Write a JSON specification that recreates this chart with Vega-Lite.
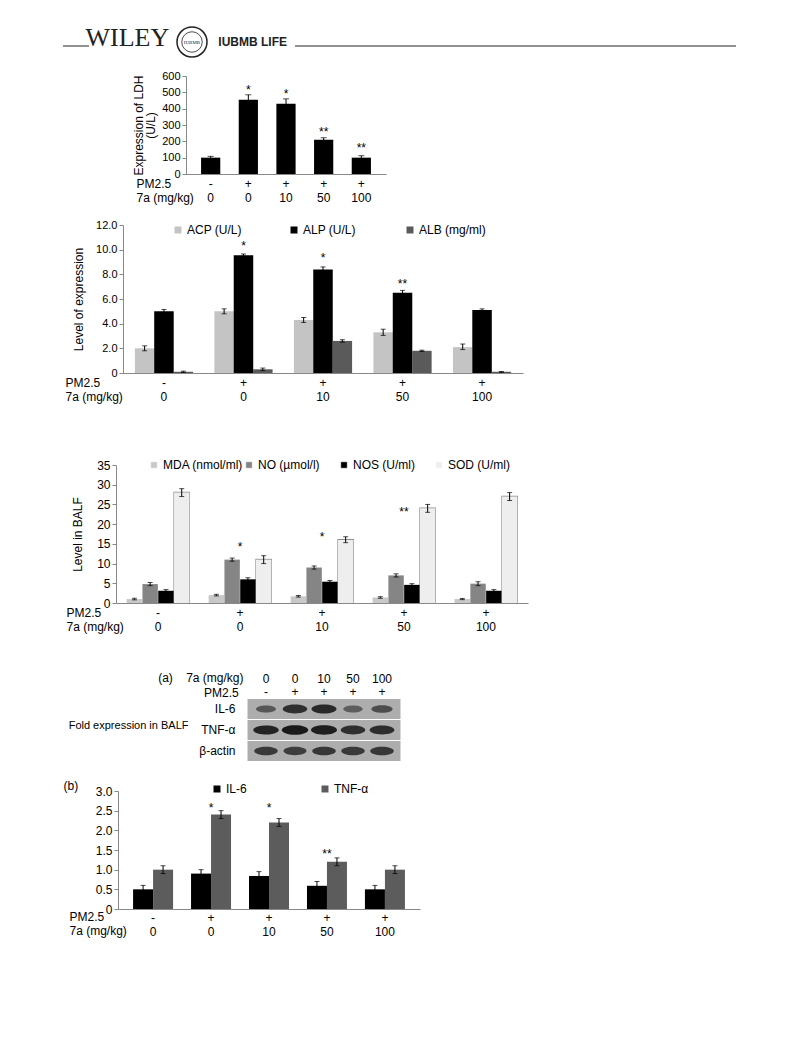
{
  "$schema": "https://vega.github.io/schema/vega-lite/v6.json",
  "autosize": {"type": "pad"},
  "padding": {"left": 62, "top": 24, "right": 10, "bottom": 10},
  "background": "white",
  "config": {
    "font": "Liberation Sans",
    "view": {"stroke": null},
    "axis": {"labelColor": "#000", "titleColor": "#000", "domainColor": "#888", "tickColor": "#888", "grid": false, "labelFont": "Liberation Sans", "titleFont": "Liberation Sans", "titleFontWeight": "normal", "labelFontSize": 12, "titleFontSize": 12, "labelOverlap": false},
    "legend": {"labelFont": "Liberation Sans", "labelColor": "#000", "labelFontSize": 12},
    "text": {"font": "Liberation Sans"},
    "concat": {"spacing": 0}
  },
  "resolve": {"scale": {"color": "independent", "stroke": "independent", "size": "independent", "opacity": "independent", "x": "independent", "y": "independent", "xOffset": "independent"}, "legend": {"color": "independent"}},
  "datasets": {
    "hdr": [{"part": "WILEY"}, {"part": "logo"}, {"part": "IUBMB LIFE"}],
    "ldh": [
      {"g": "-|0", "v": 100, "lo": 92, "hi": 108},
      {"g": "+|0", "v": 455, "lo": 425, "hi": 485},
      {"g": "+|10", "v": 430, "lo": 400, "hi": 460},
      {"g": "+|50", "v": 210, "lo": 200, "hi": 222},
      {"g": "+|100", "v": 100, "lo": 92, "hi": 112}
    ],
    "ldhStar": [
      {"g": "+|0", "sy": 514, "star": "*"},
      {"g": "+|10", "sy": 490, "star": "*"},
      {"g": "+|50", "sy": 257, "star": "**"},
      {"g": "+|100", "sy": 159, "star": "**"}
    ],
    "enz": [
      {"g": "-|0", "s": "ACP (U/L)", "v": 2.0, "lo": 1.8, "hi": 2.2},
      {"g": "+|0", "s": "ACP (U/L)", "v": 5.0, "lo": 4.8, "hi": 5.2},
      {"g": "+|10", "s": "ACP (U/L)", "v": 4.3, "lo": 4.1, "hi": 4.5},
      {"g": "+|50", "s": "ACP (U/L)", "v": 3.3, "lo": 3.05, "hi": 3.55},
      {"g": "+|100", "s": "ACP (U/L)", "v": 2.1, "lo": 1.9, "hi": 2.35},
      {"g": "-|0", "s": "ALP (U/L)", "v": 5.0, "lo": 4.85, "hi": 5.15},
      {"g": "+|0", "s": "ALP (U/L)", "v": 9.55, "lo": 9.45, "hi": 9.65},
      {"g": "+|10", "s": "ALP (U/L)", "v": 8.4, "lo": 8.25, "hi": 8.6},
      {"g": "+|50", "s": "ALP (U/L)", "v": 6.5, "lo": 6.35, "hi": 6.7},
      {"g": "+|100", "s": "ALP (U/L)", "v": 5.1, "lo": 5.0, "hi": 5.2},
      {"g": "-|0", "s": "ALB (mg/ml)", "v": 0.1, "lo": 0.05, "hi": 0.15},
      {"g": "+|0", "s": "ALB (mg/ml)", "v": 0.3, "lo": 0.2, "hi": 0.4},
      {"g": "+|10", "s": "ALB (mg/ml)", "v": 2.6, "lo": 2.5, "hi": 2.7},
      {"g": "+|50", "s": "ALB (mg/ml)", "v": 1.8, "lo": 1.75, "hi": 1.85},
      {"g": "+|100", "s": "ALB (mg/ml)", "v": 0.1, "lo": 0.05, "hi": 0.12}
    ],
    "enzStar": [
      {"g": "+|0", "sy": 10.3, "star": "*"},
      {"g": "+|10", "sy": 9.3, "star": "*"},
      {"g": "+|50", "sy": 7.2, "star": "**"}
    ],
    "balf": [
      {"g": "-|0", "s": "MDA (nmol/ml)", "v": 1.0, "lo": 0.8, "hi": 1.2},
      {"g": "+|0", "s": "MDA (nmol/ml)", "v": 2.0, "lo": 1.8, "hi": 2.2},
      {"g": "+|10", "s": "MDA (nmol/ml)", "v": 1.7, "lo": 1.5, "hi": 1.9},
      {"g": "+|50", "s": "MDA (nmol/ml)", "v": 1.4, "lo": 1.2, "hi": 1.6},
      {"g": "+|100", "s": "MDA (nmol/ml)", "v": 1.0, "lo": 0.85, "hi": 1.15},
      {"g": "-|0", "s": "NO (µmol/l)", "v": 4.8, "lo": 4.4, "hi": 5.2},
      {"g": "+|0", "s": "NO (µmol/l)", "v": 11.0, "lo": 10.6, "hi": 11.4},
      {"g": "+|10", "s": "NO (µmol/l)", "v": 9.0, "lo": 8.6, "hi": 9.4},
      {"g": "+|50", "s": "NO (µmol/l)", "v": 7.0, "lo": 6.6, "hi": 7.4},
      {"g": "+|100", "s": "NO (µmol/l)", "v": 4.9, "lo": 4.4, "hi": 5.4},
      {"g": "-|0", "s": "NOS (U/ml)", "v": 3.1, "lo": 2.8, "hi": 3.4},
      {"g": "+|0", "s": "NOS (U/ml)", "v": 6.0, "lo": 5.6, "hi": 6.4},
      {"g": "+|10", "s": "NOS (U/ml)", "v": 5.4, "lo": 5.1, "hi": 5.7},
      {"g": "+|50", "s": "NOS (U/ml)", "v": 4.6, "lo": 4.3, "hi": 4.9},
      {"g": "+|100", "s": "NOS (U/ml)", "v": 3.1, "lo": 2.8, "hi": 3.4},
      {"g": "-|0", "s": "SOD (U/ml)", "v": 28, "lo": 27, "hi": 29},
      {"g": "+|0", "s": "SOD (U/ml)", "v": 11, "lo": 10, "hi": 12},
      {"g": "+|10", "s": "SOD (U/ml)", "v": 16, "lo": 15.3, "hi": 16.8},
      {"g": "+|50", "s": "SOD (U/ml)", "v": 24, "lo": 23, "hi": 25},
      {"g": "+|100", "s": "SOD (U/ml)", "v": 27, "lo": 26, "hi": 28}
    ],
    "balfStar": [
      {"g": "+|0", "sy": 14.2, "star": "*"},
      {"g": "+|10", "sy": 16.7, "star": "*"},
      {"g": "+|50", "sy": 23.1, "star": "**"}
    ],
    "blot": [
      {"lane": "0|-", "row": "IL-6", "intensity": 0.4},
      {"lane": "0|+", "row": "IL-6", "intensity": 0.8},
      {"lane": "10|+", "row": "IL-6", "intensity": 0.85},
      {"lane": "50|+", "row": "IL-6", "intensity": 0.35},
      {"lane": "100|+", "row": "IL-6", "intensity": 0.5},
      {"lane": "0|-", "row": "TNF-α", "intensity": 0.9},
      {"lane": "0|+", "row": "TNF-α", "intensity": 1.0},
      {"lane": "10|+", "row": "TNF-α", "intensity": 0.95},
      {"lane": "50|+", "row": "TNF-α", "intensity": 0.8},
      {"lane": "100|+", "row": "TNF-α", "intensity": 0.82},
      {"lane": "0|-", "row": "β-actin", "intensity": 0.7},
      {"lane": "0|+", "row": "β-actin", "intensity": 0.66},
      {"lane": "10|+", "row": "β-actin", "intensity": 0.72},
      {"lane": "50|+", "row": "β-actin", "intensity": 0.7},
      {"lane": "100|+", "row": "β-actin", "intensity": 0.72}
    ],
    "cyt": [
      {"g": "-|0", "s": "IL-6", "v": 0.5, "lo": 0.4, "hi": 0.6},
      {"g": "+|0", "s": "IL-6", "v": 0.9, "lo": 0.8, "hi": 1.0},
      {"g": "+|10", "s": "IL-6", "v": 0.84, "lo": 0.74, "hi": 0.95},
      {"g": "+|50", "s": "IL-6", "v": 0.59, "lo": 0.49, "hi": 0.7},
      {"g": "+|100", "s": "IL-6", "v": 0.5, "lo": 0.4, "hi": 0.6},
      {"g": "-|0", "s": "TNF-α", "v": 1.0, "lo": 0.9, "hi": 1.1},
      {"g": "+|0", "s": "TNF-α", "v": 2.4, "lo": 2.3, "hi": 2.5},
      {"g": "+|10", "s": "TNF-α", "v": 2.2, "lo": 2.1, "hi": 2.3},
      {"g": "+|50", "s": "TNF-α", "v": 1.2, "lo": 1.1, "hi": 1.3},
      {"g": "+|100", "s": "TNF-α", "v": 1.0, "lo": 0.9, "hi": 1.1}
    ],
    "cytStar": [
      {"g": "+|0", "sy": 2.57, "star": "*"},
      {"g": "+|10", "sy": 2.57, "star": "*"},
      {"g": "+|50", "sy": 1.4, "star": "**"}
    ]
  },
  "bounds": "flush",
  "spacing": 0,
  "vconcat": [
    {
      "width": 673, "height": 40,
      "layer": [
        {"data": {"values": [{}]}, "mark": {"type": "rule", "color": "#222", "strokeWidth": 1}, "encoding": {"y": {"datum": 0, "type": "quantitative", "scale": {"domain": [-1, 1]}, "axis": null}}},
        {"data": {"name": "hdr"}, "mark": {"type": "rect", "color": "white"}, "encoding": {"x": {"field": "part", "type": "nominal", "scale": {"domain": ["WILEY", "logo", "IUBMB LIFE"], "range": [26, 232], "paddingInner": 0, "paddingOuter": 0}, "axis": null}}},
        {"data": {"values": [{"part": "WILEY"}]}, "mark": {"type": "text", "font": "Liberation Serif", "fontSize": 26, "baseline": "alphabetic", "align": "center", "color": "#222", "dx": 4}, "encoding": {"x": {"field": "part", "type": "nominal", "axis": null}, "text": {"field": "part"}}},
        {"data": {"values": [{"part": "IUBMB LIFE"}]}, "mark": {"type": "text", "font": "Liberation Sans", "fontWeight": "bold", "fontSize": 12, "baseline": "alphabetic", "align": "center", "color": "#222", "dx": -8}, "encoding": {"x": {"field": "part", "type": "nominal", "axis": null}, "text": {"field": "part"}}},
        {"data": {"values": [{"part": "logo"}]}, "mark": {"type": "point", "shape": "circle", "size": 900, "filled": true, "fill": "white", "stroke": "#222", "strokeWidth": 1.5, "opacity": 1, "yOffset": -4}, "encoding": {"x": {"field": "part", "type": "nominal", "axis": null}}},
        {"data": {"values": [{"part": "logo"}]}, "mark": {"type": "point", "shape": "circle", "size": 420, "filled": false, "stroke": "#222", "strokeWidth": 0.8, "opacity": 1, "yOffset": -4}, "encoding": {"x": {"field": "part", "type": "nominal", "axis": null}}},
        {"data": {"values": [{"part": "logo", "t": "IUBMB"}]}, "mark": {"type": "text", "font": "Liberation Serif", "fontSize": 5, "baseline": "middle", "yOffset": -4, "color": "#222"}, "encoding": {"x": {"field": "part", "type": "nominal", "axis": null}, "text": {"field": "t"}}}
      ]
    },
    {"width": 1, "height": 10, "data": {"values": []}, "mark": "rect", "encoding": {}},
    {
      "width": 323, "height": 98,
      "data": {"name": "ldh"},
      "resolve": {"axis": {"y": "independent"}},
      "encoding": {"x": {"field": "g", "type": "nominal", "sort": ["-|0", "+|0", "+|10", "+|50", "+|100"], "scale": {"range": [123, 323], "paddingInner": 0.49, "paddingOuter": 0.4}, "axis": {"title": ["PM2.5", "7a (mg/kg)"], "titleAlign": "left", "titleAnchor": "start", "titleX": 73, "titleY": 4, "titleBaseline": "top", "titleLineHeight": 14, "labelExpr": "split(datum.label, '|')", "labelAngle": 0, "labelLineHeight": 14, "labelBaseline": "top", "labelPadding": 4, "labelOverlap": false, "ticks": false}}},
      "layer": [
        {"mark": {"type": "bar", "color": "#000"}, "encoding": {"y": {"field": "v", "type": "quantitative", "scale": {"domain": [0, 600], "nice": false}, "axis": {"offset": -123, "title": ["Expression of LDH", "(U/L)"], "values": [0, 100, 200, 300, 400, 500, 600], "labelOverlap": false, "titlePadding": 4, "titleLineHeight": 12, "labelFontSize": 11, "tickSize": 4, "labelPadding": 2}}}},
        {"mark": {"type": "rule", "color": "#000", "strokeWidth": 1}, "encoding": {"y": {"field": "lo", "type": "quantitative", "scale": {"domain": [0, 600], "nice": false}, "axis": null}, "y2": {"field": "hi"}}},
        {"mark": {"type": "tick", "orient": "horizontal", "size": 6, "thickness": 1, "color": "#000"}, "encoding": {"y": {"field": "hi", "type": "quantitative", "scale": {"domain": [0, 600], "nice": false}, "axis": null}}},
        {"data": {"name": "ldhStar"}, "mark": {"type": "text", "fontSize": 12, "baseline": "middle", "color": "#000"}, "encoding": {"y": {"field": "sy", "type": "quantitative", "scale": {"domain": [0, 600], "nice": false}, "axis": null}, "text": {"field": "star"}}}
      ]
    },
    {"width": 1, "height": 51, "data": {"values": []}, "mark": "rect", "encoding": {}},
    {
      "width": 460, "height": 148,
      "data": {"name": "enz"},
      "resolve": {"axis": {"y": "independent"}},
      "encoding": {
        "x": {"field": "g", "type": "nominal", "sort": ["-|0", "+|0", "+|10", "+|50", "+|100"], "scale": {"range": [60, 460], "paddingInner": 0.27, "paddingOuter": 0.15}, "axis": {"title": ["PM2.5", "7a (mg/kg)"], "titleAlign": "left", "titleAnchor": "start", "titleX": 2, "titleY": 4, "titleBaseline": "top", "titleLineHeight": 14, "labelExpr": "split(datum.label, '|')", "labelAngle": 0, "labelLineHeight": 14, "labelBaseline": "top", "labelPadding": 4, "labelOverlap": false, "ticks": false}}
      },
      "layer": [
        {"mark": {"type": "bar"}, "encoding": {
          "xOffset": {"field": "s", "type": "nominal", "sort": ["ACP (U/L)", "ALP (U/L)", "ALB (mg/ml)"], "scale": {"paddingInner": 0, "paddingOuter": 0}},
          "y": {"datum": 0, "type": "quantitative", "scale": {"domain": [0, 12], "nice": false}, "axis": null},
          "color": {"field": "s", "type": "nominal", "sort": ["ACP (U/L)", "ALP (U/L)", "ALB (mg/ml)"], "scale": {"domain": ["ACP (U/L)", "ALP (U/L)", "ALB (mg/ml)"], "range": ["#c4c4c4", "#000000", "#5a5a5a"]}, "legend": {"title": null, "orient": "none", "legendX": 109, "legendY": -1, "direction": "horizontal", "gridAlign": "all", "symbolType": "square", "symbolSize": 30, "labelOffset": 3, "columnPadding": 34}}
        }},
        {"mark": {"type": "rule", "strokeWidth": 19.5}, "encoding": {
          "xOffset": {"field": "s", "type": "nominal", "sort": ["ACP (U/L)", "ALP (U/L)", "ALB (mg/ml)"]},
          "y": {"field": "v", "type": "quantitative", "scale": {"domain": [0, 12], "nice": false}, "axis": {"offset": -60, "title": "Level of expression", "values": [0, 2, 4, 6, 8, 10, 12], "labelOverlap": false, "labelExpr": "datum.value == 0 ? '0' : format(datum.value, '.1f')", "titlePadding": 10, "labelFontSize": 11, "tickSize": 4, "labelPadding": 2}},
          "y2": {"datum": 0},
          "stroke": {"field": "s", "type": "nominal", "scale": {"domain": ["ACP (U/L)", "ALP (U/L)", "ALB (mg/ml)"], "range": ["#c4c4c4", "#000000", "#5a5a5a"]}, "legend": null}
        }},
        {"mark": {"type": "rule", "color": "#000", "strokeWidth": 1}, "encoding": {"xOffset": {"field": "s", "type": "nominal", "sort": ["ACP (U/L)", "ALP (U/L)", "ALB (mg/ml)"]}, "y": {"field": "lo", "type": "quantitative", "scale": {"domain": [0, 12], "nice": false}, "axis": null}, "y2": {"field": "hi"}}},
        {"mark": {"type": "tick", "orient": "horizontal", "size": 5, "thickness": 1, "color": "#000"}, "encoding": {"xOffset": {"field": "s", "type": "nominal", "sort": ["ACP (U/L)", "ALP (U/L)", "ALB (mg/ml)"]}, "y": {"field": "lo", "type": "quantitative", "scale": {"domain": [0, 12], "nice": false}, "axis": null}}},
        {"mark": {"type": "tick", "orient": "horizontal", "size": 5, "thickness": 1, "color": "#000"}, "encoding": {"xOffset": {"field": "s", "type": "nominal", "sort": ["ACP (U/L)", "ALP (U/L)", "ALB (mg/ml)"]}, "y": {"field": "hi", "type": "quantitative", "scale": {"domain": [0, 12], "nice": false}, "axis": null}}},
        {"data": {"name": "enzStar"}, "mark": {"type": "text", "fontSize": 12, "baseline": "middle", "color": "#000"}, "encoding": {"y": {"field": "sy", "type": "quantitative", "scale": {"domain": [0, 12], "nice": false}, "axis": null}, "text": {"field": "star"}}}
      ]
    },
    {"width": 1, "height": 92, "data": {"values": []}, "mark": "rect", "encoding": {}},
    {
      "width": 465, "height": 138,
      "data": {"name": "balf"},
      "resolve": {"axis": {"y": "independent"}},
      "encoding": {"x": {"field": "g", "type": "nominal", "sort": ["-|0", "+|0", "+|10", "+|50", "+|100"], "scale": {"range": [53, 465], "paddingInner": 0.23, "paddingOuter": 0.128}, "axis": {"title": ["PM2.5", "7a (mg/kg)"], "titleAlign": "left", "titleAnchor": "start", "titleX": 3, "titleY": 4, "titleBaseline": "top", "titleLineHeight": 14, "labelExpr": "split(datum.label, '|')", "labelAngle": 0, "labelLineHeight": 14, "labelBaseline": "top", "labelPadding": 4, "labelOverlap": false, "ticks": false}}},
      "layer": [
        {"mark": {"type": "bar"}, "encoding": {
          "xOffset": {"field": "s", "type": "nominal", "sort": ["MDA (nmol/ml)", "NO (µmol/l)", "NOS (U/ml)", "SOD (U/ml)"], "scale": {"paddingInner": 0, "paddingOuter": 0}},
          "y": {"datum": 0, "type": "quantitative", "scale": {"domain": [0, 35], "nice": false}, "axis": null},
          "color": {"field": "s", "type": "nominal", "sort": ["MDA (nmol/ml)", "NO (µmol/l)", "NOS (U/ml)", "SOD (U/ml)"], "scale": {"domain": ["MDA (nmol/ml)", "NO (µmol/l)", "NOS (U/ml)", "SOD (U/ml)"], "range": ["#c8c8c8", "#858585", "#000000", "#eeeeee"]}, "legend": {"title": null, "orient": "none", "legendX": 85, "legendY": -6, "direction": "horizontal", "gridAlign": "all", "symbolType": "square", "symbolSize": 30, "symbolStrokeColor": "#999", "symbolStrokeWidth": 0.6, "labelOffset": 3, "columnPadding": 0}}
        }},
        {"transform": [{"filter": "datum.s === 'SOD (U/ml)'"}], "mark": {"type": "rule", "strokeWidth": 16.6, "color": "#8c8c8c", "yOffset": -0.8}, "encoding": {
          "xOffset": {"field": "s", "type": "nominal", "sort": ["MDA (nmol/ml)", "NO (µmol/l)", "NOS (U/ml)", "SOD (U/ml)"]},
          "y": {"field": "v", "type": "quantitative", "scale": {"domain": [0, 35], "nice": false}, "axis": null},
          "y2": {"datum": 0}
        }},
        {"mark": {"type": "rule", "strokeWidth": 15.4}, "encoding": {
          "xOffset": {"field": "s", "type": "nominal", "sort": ["MDA (nmol/ml)", "NO (µmol/l)", "NOS (U/ml)", "SOD (U/ml)"]},
          "y": {"field": "v", "type": "quantitative", "scale": {"domain": [0, 35], "nice": false}, "axis": {"offset": -53, "title": "Level in BALF", "values": [0, 5, 10, 15, 20, 25, 30, 35], "labelOverlap": false, "titlePadding": 12, "labelFontSize": 12, "tickSize": 4, "labelPadding": 2}},
          "y2": {"datum": 0},
          "stroke": {"field": "s", "type": "nominal", "scale": {"domain": ["MDA (nmol/ml)", "NO (µmol/l)", "NOS (U/ml)", "SOD (U/ml)"], "range": ["#c8c8c8", "#858585", "#000000", "#eeeeee"]}, "legend": null}
        }},
        {"mark": {"type": "rule", "color": "#000", "strokeWidth": 1}, "encoding": {"xOffset": {"field": "s", "type": "nominal", "sort": ["MDA (nmol/ml)", "NO (µmol/l)", "NOS (U/ml)", "SOD (U/ml)"]}, "y": {"field": "lo", "type": "quantitative", "scale": {"domain": [0, 35], "nice": false}, "axis": null}, "y2": {"field": "hi"}}},
        {"mark": {"type": "tick", "orient": "horizontal", "size": 5, "thickness": 1, "color": "#000"}, "encoding": {"xOffset": {"field": "s", "type": "nominal", "sort": ["MDA (nmol/ml)", "NO (µmol/l)", "NOS (U/ml)", "SOD (U/ml)"]}, "y": {"field": "lo", "type": "quantitative", "scale": {"domain": [0, 35], "nice": false}, "axis": null}}},
        {"mark": {"type": "tick", "orient": "horizontal", "size": 5, "thickness": 1, "color": "#000"}, "encoding": {"xOffset": {"field": "s", "type": "nominal", "sort": ["MDA (nmol/ml)", "NO (µmol/l)", "NOS (U/ml)", "SOD (U/ml)"]}, "y": {"field": "hi", "type": "quantitative", "scale": {"domain": [0, 35], "nice": false}, "axis": null}}},
        {"data": {"name": "balfStar"}, "mark": {"type": "text", "fontSize": 12, "baseline": "middle", "color": "#000"}, "encoding": {"y": {"field": "sy", "type": "quantitative", "scale": {"domain": [0, 35], "nice": false}, "axis": null}, "text": {"field": "star"}}}
      ]
    },
    {"width": 1, "height": 96, "data": {"values": []}, "mark": "rect", "encoding": {}},
    {
      "width": 350, "height": 62,
      "data": {"name": "blot"},
      "title": {"text": "PM2.5", "anchor": "start", "frame": "group", "dx": 141, "dy": 29, "fontSize": 12, "fontWeight": "normal", "font": "Liberation Sans", "color": "#000", "offset": 0},
      "encoding": {
        "x": {"field": "lane", "type": "nominal", "sort": ["0|-", "0|+", "10|+", "50|+", "100|+"], "scale": {"range": [174, 348], "paddingInner": 0, "paddingOuter": 0.5}, "axis": {"orient": "top", "title": "(a)\u00a0\u00a0\u00a0 7a (mg/kg)", "titleAlign": "right", "titleAnchor": "end", "titleX": 180, "titleY": -27, "titleBaseline": "top", "labelExpr": "split(datum.label, '|')", "labelAngle": 0, "labelBaseline": "bottom", "labelLineHeight": 13, "labelPadding": 14, "labelOverlap": false, "ticks": false, "domain": false}},
        "y": {"field": "row", "type": "nominal", "sort": ["IL-6", "TNF-α", "β-actin"], "scale": {"paddingInner": 0.05, "paddingOuter": 0}, "axis": {"offset": -184, "title": "Fold expression in BALF", "titleFontSize": 11, "titleAngle": 0, "titleAlign": "right", "titleBaseline": "middle", "titleX": -59, "titleY": 26, "labelPadding": 12, "ticks": false, "domain": false}}
      },
      "layer": [
        {"mark": {"type": "rect", "color": "#adadad", "width": 37}},
        {"mark": {"type": "point", "shape": "M-1,0A1,0.36,0,1,1,1,0A1,0.36,0,1,1,-1,0Z", "filled": true, "color": "#1a1a1a"}, "encoding": {
          "size": {"field": "intensity", "type": "quantitative", "scale": {"domain": [0, 1], "range": [200, 700]}, "legend": null},
          "opacity": {"field": "intensity", "type": "quantitative", "scale": {"domain": [0, 1], "range": [0.3, 1]}, "legend": null}
        }}
      ]
    },
    {"width": 1, "height": 30, "data": {"values": []}, "mark": "rect", "encoding": {}},
    {
      "width": 357, "height": 118,
      "data": {"name": "cyt"},
      "resolve": {"axis": {"y": "independent"}},
      "encoding": {"x": {"field": "g", "type": "nominal", "sort": ["-|0", "+|0", "+|10", "+|50", "+|100"], "scale": {"range": [55, 357], "paddingInner": 0.31, "paddingOuter": 0.26}, "axis": {"title": ["PM2.5", "7a (mg/kg)"], "titleAlign": "left", "titleAnchor": "start", "titleX": 6, "titleY": 2, "titleBaseline": "top", "titleLineHeight": 14, "labelExpr": "split(datum.label, '|')", "labelAngle": 0, "labelLineHeight": 14, "labelBaseline": "top", "labelPadding": 3, "labelOverlap": false, "ticks": false}}},
      "layer": [
        {"mark": {"type": "bar"}, "encoding": {
          "xOffset": {"field": "s", "type": "nominal", "sort": ["IL-6", "TNF-α"], "scale": {"paddingInner": 0, "paddingOuter": 0}},
          "y": {"datum": 0, "type": "quantitative", "scale": {"domain": [0, 3], "nice": false}, "axis": null},
          "color": {"field": "s", "type": "nominal", "sort": ["IL-6", "TNF-α"], "scale": {"domain": ["IL-6", "TNF-α"], "range": ["#000000", "#5c5c5c"]}, "legend": {"title": null, "orient": "none", "legendX": 148, "legendY": -8, "direction": "horizontal", "symbolType": "square", "symbolSize": 30, "labelOffset": 3, "columnPadding": 72}}
        }},
        {"mark": {"type": "rule", "strokeWidth": 20}, "encoding": {
          "xOffset": {"field": "s", "type": "nominal", "sort": ["IL-6", "TNF-α"]},
          "y": {"field": "v", "type": "quantitative", "scale": {"domain": [0, 3], "nice": false}, "axis": {"offset": -55, "title": "(b)", "titleAngle": 0, "titleAlign": "left", "titleBaseline": "middle", "titleX": -55, "titleY": -6, "values": [0, 0.5, 1, 1.5, 2, 2.5, 3], "labelOverlap": false, "labelExpr": "datum.value == 0 ? '0' : format(datum.value, '.1f')", "labelFontSize": 12, "tickSize": 4, "labelPadding": 2}},
          "y2": {"datum": 0},
          "stroke": {"field": "s", "type": "nominal", "scale": {"domain": ["IL-6", "TNF-α"], "range": ["#000000", "#5c5c5c"]}, "legend": null}
        }},
        {"mark": {"type": "rule", "color": "#000", "strokeWidth": 1}, "encoding": {"xOffset": {"field": "s", "type": "nominal", "sort": ["IL-6", "TNF-α"]}, "y": {"field": "lo", "type": "quantitative", "scale": {"domain": [0, 3], "nice": false}, "axis": null}, "y2": {"field": "hi"}}},
        {"mark": {"type": "tick", "orient": "horizontal", "size": 5, "thickness": 1, "color": "#000"}, "encoding": {"xOffset": {"field": "s", "type": "nominal", "sort": ["IL-6", "TNF-α"]}, "y": {"field": "lo", "type": "quantitative", "scale": {"domain": [0, 3], "nice": false}, "axis": null}}},
        {"mark": {"type": "tick", "orient": "horizontal", "size": 5, "thickness": 1, "color": "#000"}, "encoding": {"xOffset": {"field": "s", "type": "nominal", "sort": ["IL-6", "TNF-α"]}, "y": {"field": "hi", "type": "quantitative", "scale": {"domain": [0, 3], "nice": false}, "axis": null}}},
        {"data": {"name": "cytStar"}, "mark": {"type": "text", "fontSize": 12, "baseline": "middle", "color": "#000"}, "encoding": {"y": {"field": "sy", "type": "quantitative", "scale": {"domain": [0, 3], "nice": false}, "axis": null}, "text": {"field": "star"}}}
      ]
    }
  ]
}
